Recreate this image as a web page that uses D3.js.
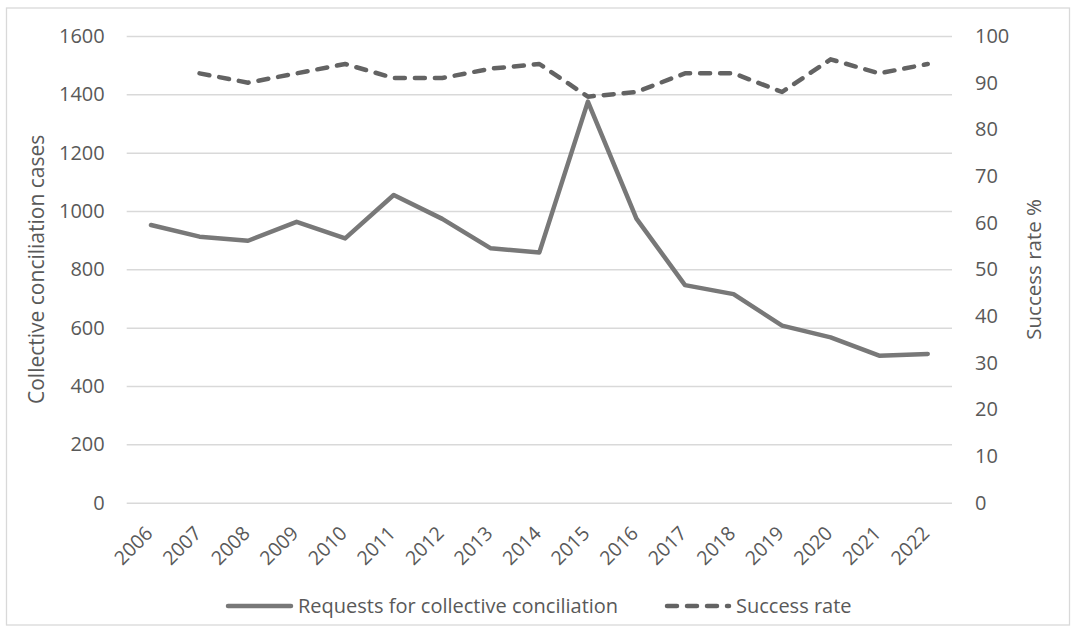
<!DOCTYPE html>
<html>
<head>
<meta charset="utf-8">
<script src="https://cdn.jsdelivr.net/npm/d3@7"></script>
<style>
  html, body { margin: 0; padding: 0; background: #fff; }
  svg text { font-family: "Open Sans", "Noto Sans", sans-serif; fill: #595959; }
</style>
</head>
<body>
<svg id="chart" width="1076" height="632"></svg>
<script>
// Collective conciliation requests per year and the share settled successfully
const years = ["2006","2007","2008","2009","2010","2011","2012","2013","2014",
               "2015","2016","2017","2018","2019","2020","2021","2022"];
const requests = [952, 912, 898, 963, 906, 1055, 973, 872, 858,
                  1375, 974, 746, 715, 607, 567, 504, 510];
const successRate = [null, 92, 90, 92, 94, 91, 91, 93, 94,
                     87, 88, 92, 92, 88, 95, 92, 94];
const leftTicks = [0, 200, 400, 600, 800, 1000, 1200, 1400, 1600];
const rightTicks = [0, 10, 20, 30, 40, 50, 60, 70, 80, 90, 100];

const svg = d3.select("#chart");
const W = 1076, H = 632;
const plot = { left: 126.7, right: 952, top: 36, bottom: 502.7 };

// outer chart frame
svg.append("rect")
  .attr("x", 6.5).attr("y", 8).attr("width", W - 13).attr("height", H - 15)
  .attr("fill", "#fff").attr("stroke", "#d9d9d9").attr("stroke-width", 1.3);

const x = d3.scaleBand().domain(years).range([plot.left, plot.right]);
const yL = d3.scaleLinear().domain([0, 1600]).range([plot.bottom, plot.top]);
const yR = d3.scaleLinear().domain([0, 100]).range([plot.bottom, plot.top]);

// horizontal gridlines
svg.append("g")
  .attr("transform", `translate(${plot.left},0)`)
  .call(d3.axisLeft(yL).tickValues(leftTicks).tickSize(-(plot.right - plot.left)).tickFormat(""))
  .call(g => g.select(".domain").remove())
  .call(g => g.selectAll("line").attr("stroke", "#d9d9d9").attr("stroke-width", 1.5));

// left axis labels
svg.append("g")
  .attr("transform", `translate(${plot.left},0)`)
  .call(d3.axisLeft(yL).tickValues(leftTicks).tickSize(0).tickPadding(22).tickFormat(d3.format("d")))
  .call(g => g.select(".domain").remove())
  .call(g => g.selectAll("text").style("font-size", "20px").attr("fill", "#595959"));

// right axis labels
svg.append("g")
  .attr("transform", `translate(${plot.right},0)`)
  .call(d3.axisRight(yR).tickValues(rightTicks).tickSize(0).tickPadding(23).tickFormat(d3.format("d")))
  .call(g => g.select(".domain").remove())
  .call(g => g.selectAll("text").style("font-size", "20px").attr("fill", "#595959"));

// category labels, rotated
const xAxis = svg.append("g")
  .attr("transform", `translate(0,${plot.bottom})`)
  .call(d3.axisBottom(x).tickSize(0).tickPadding(0));
xAxis.select(".domain").remove();
xAxis.selectAll("text")
  .style("font-size", "19.5px").attr("fill", "#595959")
  .attr("text-anchor", "end")
  .attr("dy", null).attr("y", null)
  .attr("transform", "translate(3,32) rotate(-45)");

// axis titles
svg.append("text")
  .attr("transform", `translate(44,${(plot.top + plot.bottom) / 2}) rotate(-90)`)
  .attr("text-anchor", "middle")
  .style("font-size", "21px")
  .text("Collective conciliation cases");

svg.append("text")
  .attr("transform", `translate(1041,${(plot.top + plot.bottom) / 2}) rotate(-90)`)
  .attr("text-anchor", "middle")
  .style("font-size", "20.5px")
  .text("Success rate %");

const cx = d => x(d) + x.bandwidth() / 2;

// requests line (left axis)
svg.append("path")
  .datum(years.map((yr, i) => [yr, requests[i]]))
  .attr("fill", "none").attr("stroke", "#787878").attr("stroke-width", 4.5)
  .attr("stroke-linejoin", "round").attr("stroke-linecap", "round")
  .attr("d", d3.line().x(d => cx(d[0])).y(d => yL(d[1])));

// success rate line (right axis)
svg.append("path")
  .datum(years.map((yr, i) => [yr, successRate[i]]).filter(d => d[1] != null))
  .attr("fill", "none").attr("stroke", "#636363").attr("stroke-width", 4.5)
  .attr("stroke-dasharray", "10,10")
  .attr("stroke-linejoin", "round").attr("stroke-linecap", "round")
  .attr("d", d3.line().x(d => cx(d[0])).y(d => yR(d[1])));

// legend
const legendY = 606;
const legend = svg.append("g");
legend.append("line")
  .attr("x1", 228).attr("x2", 291).attr("y1", legendY).attr("y2", legendY)
  .attr("stroke", "#787878").attr("stroke-width", 4.5).attr("stroke-linecap", "round");
legend.append("text")
  .attr("x", 298).attr("y", legendY).attr("dy", "0.35em")
  .style("font-size", "20px")
  .text("Requests for collective conciliation");
legend.append("line")
  .attr("x1", 667).attr("x2", 729).attr("y1", legendY).attr("y2", legendY)
  .attr("stroke", "#636363").attr("stroke-width", 4.5).attr("stroke-linecap", "round")
  .attr("stroke-dasharray", "10,10");
legend.append("text")
  .attr("x", 736).attr("y", legendY).attr("dy", "0.35em")
  .style("font-size", "20px")
  .text("Success rate");
</script>
</body>
</html>
